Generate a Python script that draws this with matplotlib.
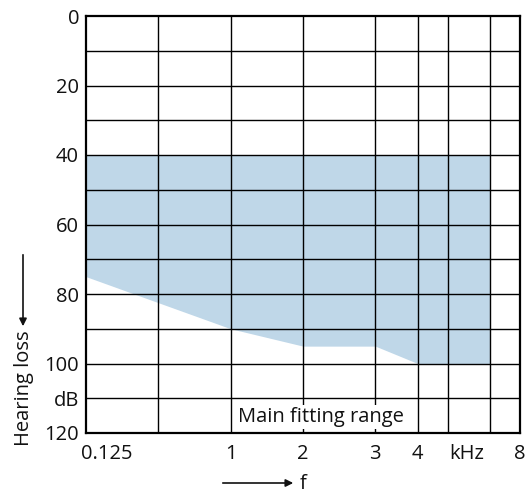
import matplotlib
matplotlib.use("Agg")
import matplotlib.pyplot as plt
from matplotlib.patches import FancyArrowPatch
from matplotlib.ticker import NullLocator

plt.rcParams['font.family'] = ['Open Sans', 'DejaVu Sans']

# fitting range: frequency (kHz) and lower limit of hearing loss (dB)
range_freq = [0.125, 0.25, 0.5, 1, 2, 3, 4, 6]
range_lower = [75, 82.5, 90, 95, 95, 100, 100, 100]
range_upper = 40

# grid lines
grid_freq = [0.25, 0.5, 1, 2, 3, 4, 6]
grid_db = list(range(10, 120, 10))

# axis labels as they sit in the picture
xtick_pos = [0.153, 0.5, 1, 2, 3, 4.8, 8]
xtick_labels = ['0.125', '1', '2', '3', '4', 'kHz', '8']
ytick_pos = [0, 20, 40, 60, 80, 100, 110, 120]
ytick_labels = ['0', '20', '40', '60', '80', '100', 'dB', '120']

fs = 14.5
txt = '#111111'

fig = plt.figure(figsize=(5.25, 4.99), dpi=100)
ax = fig.add_axes([86 / 525, 1 - 433 / 499, 434 / 525, 417 / 499])

ax.fill_between(range_freq, range_upper, range_lower, color='#bfd7e8', lw=0, zorder=1)

ax.set_xscale('log', base=2)
ax.set_xlim(0.125, 8)
ax.set_ylim(120, 0)

for f in grid_freq:
    ax.axvline(f, color='black', lw=1.0, zorder=2)
for d in grid_db:
    ax.axhline(d, color='black', lw=1.0, zorder=2)

ax.xaxis.set_minor_locator(NullLocator())
ax.yaxis.set_minor_locator(NullLocator())
ax.set_xticks(xtick_pos, xtick_labels)
ax.set_yticks(ytick_pos, ytick_labels)
ax.tick_params(which='both', length=0, labelsize=fs, colors=txt)
ax.tick_params(axis='x', pad=8)
ax.tick_params(axis='y', pad=5)

for s in ax.spines.values():
    s.set_linewidth(1.6)
    s.set_zorder(3)

ax.text(1.19, 115.3, 'Main fitting range', ha='center', va='center', fontsize=fs,
        color=txt, zorder=4, bbox=dict(facecolor='white', edgecolor='none', pad=1.5))

# y label with arrow
fig.text(24 / 525, 1 - 388 / 499, 'Hearing loss', rotation=90, ha='center', va='center',
         fontsize=fs, color=txt)
fig.add_artist(FancyArrowPatch(
    (23 / 525, 1 - 252 / 499), (23 / 525, 1 - 329 / 499), transform=fig.transFigure,
    arrowstyle='-|>', mutation_scale=11, color=txt, lw=1.2))

# f label with arrow
fig.add_artist(FancyArrowPatch(
    (220 / 525, 1 - 483 / 499), (296 / 525, 1 - 483 / 499), transform=fig.transFigure,
    arrowstyle='-|>', mutation_scale=11, color=txt, lw=1.2))
fig.text(303 / 525, 1 - 484 / 499, 'f', ha='center', va='center', fontsize=fs, color=txt)

fig.savefig('out.png', dpi=100)
